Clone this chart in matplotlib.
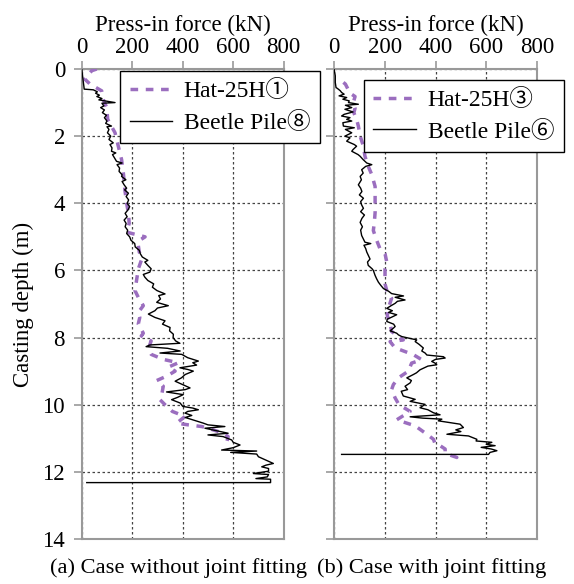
import matplotlib
matplotlib.use('Agg')
import matplotlib.pyplot as plt

plt.rcParams['font.family'] = ['Liberation Serif', 'Noto Sans CJK JP']
plt.rcParams['font.size'] = 16

# (a) without joint fitting
a_beetle_depth = [0, 0.3, 0.6, 0.62, 0.68, 0.72, 0.78, 0.82, 0.88, 0.92, 1.0, 1.02, 1.1, 1.15, 1.22, 1.3, 1.38, 1.45,
                  1.55, 1.62, 1.7, 1.72, 1.8, 1.9, 2.0, 2.1, 2.2, 2.25, 2.35, 2.45, 2.5, 2.55, 2.65, 2.75, 2.8, 2.85,
                  2.95, 3.05, 3.15, 3.2, 3.3, 3.35, 3.45, 3.55, 3.6, 3.7, 3.8, 3.9, 4.0, 4.1, 4.2, 4.3, 4.4, 4.5,
                  4.6, 4.7, 4.8, 4.9, 5.0, 5.1, 5.2, 5.3, 5.4, 5.5, 5.6, 5.7, 5.75, 5.85, 5.95, 6.05, 6.12, 6.2,
                  6.3, 6.4, 6.5, 6.6, 6.7, 6.75, 6.85, 6.95, 7.05, 7.12, 7.2, 7.3, 7.4, 7.5, 7.6, 7.7, 7.8, 7.9,
                  8.0, 8.1, 8.17, 8.22, 8.27, 8.32, 8.4, 8.46, 8.5, 8.6, 8.7, 8.75, 8.82, 8.9, 8.95, 9.0, 9.1,
                  9.2, 9.3, 9.4, 9.5, 9.55, 9.62, 9.7, 9.78, 9.85, 9.95, 10.05, 10.1, 10.15, 10.2, 10.25, 10.32,
                  10.38, 10.45, 10.55, 10.6, 10.65, 10.7, 10.8, 10.85, 10.9, 10.95, 11.05, 11.12, 11.2, 11.28,
                  11.35, 11.38, 11.42, 11.47, 11.55, 11.65, 11.75, 11.8, 11.85, 11.9, 11.98, 12.05, 12.08, 12.15,
                  12.2, 12.22, 12.32, 12.32]
a_beetle_force = [0, 5, 10, 46, 62, 55, 70, 60, 80, 68, 132, 80, 88, 75, 90, 82, 98, 90,
                  100, 95, 118, 100, 108, 102, 115, 108, 125, 112, 120, 118, 135, 122, 130, 138, 160, 140,
                  150, 148, 160, 158, 175, 160, 168, 178, 170, 185, 176, 186, 180, 190, 183, 172, 180, 168,
                  176, 172, 182, 178, 190, 195, 210, 212, 228, 232, 240, 262, 250, 262, 275, 270, 244, 250,
                  262, 285, 280, 298, 330, 305, 312, 297, 343, 300, 290, 264, 290, 330, 320, 350, 348, 363,
                  362, 372, 389, 270, 255, 340, 390, 310, 396, 420, 462, 440, 455, 389, 420, 442, 410,
                  395, 370, 400, 429, 410, 336, 402, 380, 356, 390, 400, 440, 462, 420, 409, 436,
                  410, 440, 482, 500, 567, 488, 550, 580, 500, 560, 594, 600, 627, 600,
                  554, 693, 590, 693, 700, 730, 759, 730, 713, 740, 740, 680, 740, 735,
                  690, 748, 748, 20]
a_hat_depth = [0, 0.05, 0.3, 0.45, 0.65, 0.9, 1.15, 1.5, 1.9, 2.3, 2.7, 3.1, 3.6, 4.0, 4.3, 4.6, 4.86, 5.0, 5.1,
               5.25, 5.45, 5.66, 5.96, 6.26, 6.6, 6.8, 7.05, 7.25, 7.4, 7.6, 7.87, 7.95, 8.1, 8.25, 8.45, 8.5,
               8.65, 8.75, 8.88, 9.0, 9.15, 9.28, 9.45, 9.7, 9.85, 10.0, 10.2, 10.35, 10.55, 10.6, 10.65,
               10.7, 10.85, 10.95, 11.1, 11.2]
a_hat_force = [60, 40, 12, 33, 79, 85, 99, 103, 132, 145, 158, 165, 171, 178, 185, 188, 178, 251, 230,
               224, 228, 238, 224, 218, 211, 224, 244, 224, 230, 224, 244, 236, 275, 268, 271, 275,
               323, 383, 343, 370, 336, 297, 323, 317, 310, 330, 359, 409, 376, 422, 475,
               501, 561, 580, 575, 574]

# (b) with joint fitting
b_beetle_depth = [0, 0.2, 0.4, 0.55, 0.6, 0.65, 0.7, 0.75, 0.8, 0.85, 0.9, 0.95, 1.0, 1.05, 1.08, 1.15, 1.2,
                  1.28, 1.35, 1.4, 1.45, 1.5, 1.55, 1.6, 1.7, 1.75, 1.8, 1.9, 2.0, 2.05, 2.15, 2.25, 2.3, 2.4,
                  2.45, 2.55, 2.6, 2.7, 2.8, 2.85, 2.9, 3.0, 3.1, 3.2, 3.3, 3.45, 3.55, 3.65, 3.75, 3.85,
                  3.95, 4.05, 4.15, 4.25, 4.35, 4.45, 4.57, 4.7, 4.8, 4.96, 5.05, 5.16, 5.2, 5.25, 5.35,
                  5.45, 5.55, 5.66, 5.75, 5.85, 5.95, 6.0, 6.15, 6.25, 6.35, 6.45, 6.54, 6.62, 6.69, 6.76,
                  6.8, 6.88, 6.92, 6.98, 7.05, 7.13, 7.2, 7.25, 7.32, 7.4, 7.45, 7.52, 7.6, 7.67, 7.72,
                  7.8, 7.87, 7.92, 7.97, 8.07, 8.12, 8.2, 8.31, 8.4, 8.46, 8.52, 8.57, 8.61, 8.65, 8.71,
                  8.76, 8.81, 8.85, 8.96, 9.05, 9.1, 9.2, 9.28, 9.35, 9.45, 9.55, 9.6, 9.74, 9.84, 9.9,
                  9.99, 10.09, 10.15, 10.24, 10.3, 10.36, 10.4, 10.43, 10.48, 10.58, 10.68, 10.75, 10.8,
                  10.88, 10.93, 11.03, 11.08, 11.12, 11.18, 11.22, 11.27, 11.32, 11.37, 11.42, 11.48, 11.48]
b_beetle_force = [0, 5, 5, 8, 17, 25, 30, 40, 20, 50, 35, 60, 57, 96, 45, 70, 43,
                  75, 40, 30, 63, 50, 70, 35, 37, 80, 45, 70, 43, 63, 50, 80, 89, 75,
                  70, 95, 103, 115, 129, 149, 125, 109, 115, 103, 108, 96, 105, 110, 100, 116,
                  105, 109, 116, 105, 120, 110, 103, 112, 105, 109, 115, 122, 145, 118, 125,
                  129, 135, 142, 132, 135, 150, 155, 162, 168, 175, 185, 195, 215, 227, 274,
                  241, 280, 250, 241, 225, 208, 230, 215, 247, 225, 210, 208, 235, 241, 234,
                  221, 247, 254, 267, 326, 320, 335, 352, 346, 359, 366, 431, 438, 400, 385,
                  398, 405, 370, 339, 325, 313, 287, 305, 300, 280, 290, 265, 273, 320, 300,
                  359, 339, 370, 392, 418, 300, 350, 425, 411, 497, 510, 480, 500,
                  445, 530, 563, 560, 622, 600, 635, 580, 620, 642, 615, 609, 30]
b_hat_depth = [0.4, 0.45, 0.6, 0.72, 0.82, 1.0, 1.17, 1.3, 1.5, 1.7, 2.0, 2.3, 2.6, 2.9, 3.15, 3.5, 3.8,
               4.1, 4.27, 4.57, 4.81, 5.1, 5.35, 5.5, 5.75, 5.95, 6.15, 6.4, 6.6, 6.83, 7.13, 7.35, 7.57,
               7.82, 8.07, 8.12, 8.31, 8.36, 8.51, 8.66, 8.76, 9.0, 9.2, 9.4, 9.55, 9.8, 10.0, 10.2, 10.45,
               10.63, 10.88, 11.03, 11.18, 11.22, 11.32, 11.45, 11.57, 11.62]
b_hat_force = [37, 45, 55, 63, 83, 76, 83, 78, 89, 96, 103, 116, 122, 135, 149, 162, 162,
               162, 162, 159, 155, 168, 181, 201, 208, 201, 201, 201, 208, 227, 214, 210, 221,
               227, 273, 221, 241, 260, 313, 346, 306, 293, 254, 234, 227, 241, 256, 300, 247,
               320, 366, 392, 399, 418, 438, 438, 484, 464]

hat_color = '#9b6ebf'
spine_color = '#999999'

fig = plt.figure(figsize=(5.74, 5.84), dpi=100)
ax1 = fig.add_axes([81.7 / 574, 45 / 584, 202 / 574, 470 / 584])
ax2 = fig.add_axes([334 / 574, 45 / 584, 203 / 574, 470 / 584])


def style_axis(ax):
    ax.set_xlim(0, 800)
    ax.set_ylim(14, 0)
    ax.set_xticks([0, 200, 400, 600, 800])
    ax.set_yticks(range(0, 15, 2))
    ax.xaxis.tick_top()
    ax.xaxis.set_label_position('top')
    ax.grid(True, linestyle=(0, (2, 2)), color='#444444', linewidth=0.9)
    for s in ax.spines.values():
        s.set_color(spine_color)
        s.set_linewidth(1.5)
    ax.tick_params(direction='out', length=6, color=spine_color, width=1.2,
                   labelsize=16.5, pad=2)
    ax.tick_params(axis='y', pad=6)
    ax.set_xlabel('Press-in force (kN)', fontsize=16.5, labelpad=4)


style_axis(ax1)
style_axis(ax2)
ax2.set_yticklabels([])
ax1.set_ylabel('Casting depth (m)', fontsize=16.5, labelpad=6)

ax1.plot(a_hat_force, a_hat_depth, color=hat_color, linewidth=2.5, linestyle=(0, (2.2, 2.2)),
         label='Hat-25H\u2460', zorder=3)
ax1.plot(a_beetle_force, a_beetle_depth, color='black', linewidth=1.0, label='Beetle Pile\u2467', zorder=4)
ax2.plot(b_hat_force, b_hat_depth, color=hat_color, linewidth=2.5, linestyle=(0, (2.2, 2.2)),
         label='Hat-25H\u2462', zorder=3)
ax2.plot(b_beetle_force, b_beetle_depth, color='black', linewidth=1.0, label='Beetle Pile\u2465', zorder=4)

for ax, anchor in [(ax1, (0.19, 0.996)), (ax2, (0.148, 0.977))]:
    leg = ax.legend(loc='upper left', bbox_to_anchor=anchor, fontsize=17, fancybox=False,
                    framealpha=1, edgecolor='black', handlelength=1.8, borderpad=0.4,
                    labelspacing=0.4, handletextpad=0.5, borderaxespad=0)
    leg.get_frame().set_linewidth(1.0)
    leg.set_zorder(10)

fig.text(178 / 574, 1 - 568 / 584, '(a) Case without joint fitting', ha='center', va='center', fontsize=16.2)
fig.text(432 / 574, 1 - 568 / 584, '(b) Case with joint fitting', ha='center', va='center', fontsize=16.2)

fig.savefig('out.png', dpi=100)
